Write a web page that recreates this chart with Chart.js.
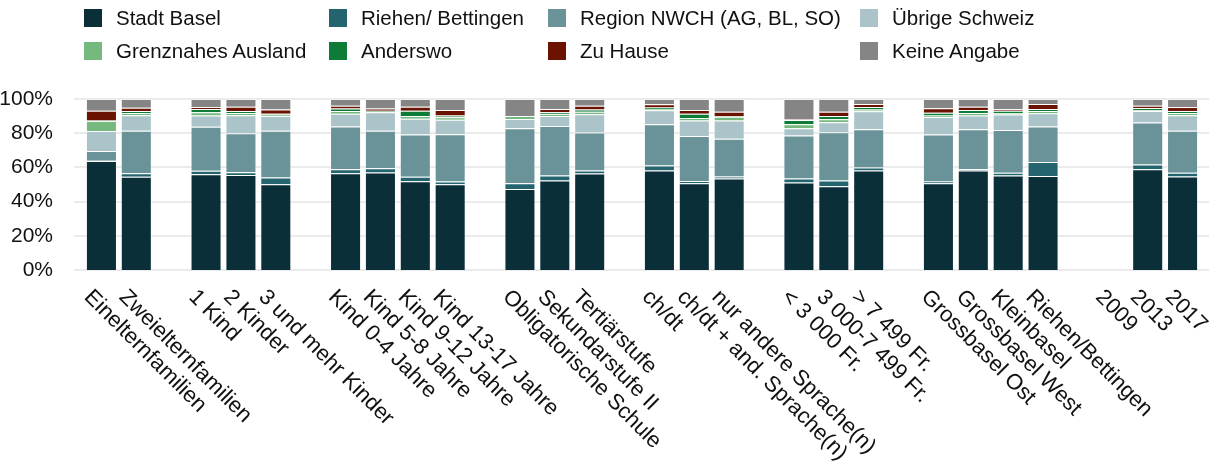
<!DOCTYPE html>
<html>
<head>
<meta charset="utf-8">
<script src="https://cdn.jsdelivr.net/npm/chart.js@4/dist/chart.umd.min.js"></script>
<style>
    body { margin: 0; background: #fff; }
    #wrap { position: relative; width: 1215px; height: 464px; }
    #legend { position: absolute; left: 0; top: 0; width: 1215px; height: 70px; }
    .item { position: absolute; height: 18px; font-family: "Liberation Sans", Arial, sans-serif; font-size: 20.5px; color: #111; white-space: nowrap; }
    .box { position: absolute; left: 0; top: 0; width: 18px; height: 18px; }
    .txt { position: absolute; left: 32px; top: -3px; line-height: 24px; }
</style>
</head>
<body>
<div id="wrap">
    <canvas id="myChart" width="1215" height="464"></canvas>
    <div id="legend"></div>
</div>
<script>
"use strict";
// categories, "" = empty slot between groups
const Categories = ["Einelternfamilien", "Zweielternfamilien", "",
    "1 Kind", "2 Kinder", "3 und mehr Kinder", "",
    "Kind 0-4 Jahre", "Kind 5-8 Jahre", "Kind 9-12 Jahre", "Kind 13-17 Jahre", "",
    "Obligatorische Schule", "Sekundarstufe II", "Tertiärstufe", "",
    "ch/dt", "ch/dt + and. Sprache(n)", "nur andere Sprache(n)", "",
    "< 3 000 Fr.", "3 000-7 499 Fr.", "> 7 499 Fr.", "",
    "Grossbasel Ost", "Grossbasel West", "Kleinbasel", "Riehen/Bettingen", "",
    "2009", "2013", "2017"];

const SeriesNames = ["Stadt Basel", "Riehen/ Bettingen", "Region NWCH (AG, BL, SO)", "Übrige Schweiz",
    "Grenznahes Ausland", "Anderswo", "Zu Hause", "Keine Angabe"];
const SeriesColors = ["#0b2f39", "#23646e", "#6a9399", "#aac4ca", "#76b97e", "#0c7c36", "#6b1300", "#858585"];

const StadtBasel = [63.8, 54.5, null, 56.0, 55.6, 50.2, null, 56.6, 57.0, 51.9, 50.2, null, 47.3, 52.3, 56.4, null,
    58.2, 50.8, 53.5, null, 51.2, 49.0, 58.2, null, 50.8, 58.2, 55.3, 54.9, null, null, 58.9, 54.7];
const RiehenBettingen = [0.4, 2.1, null, 2.0, 1.6, 3.9, null, 2.3, 2.5, 2.6, 1.6, null, 3.5, 3.0, 1.8, null,
    2.9, 1.3, 1.2, null, 2.3, 3.3, 1.7, null, 1.0, 0.7, 1.5, 8.3, null, null, 2.8, 2.1];
const RegionNWCH = [5.4, 24.9, null, 25.7, 22.8, 27.4, null, 25.0, 22.0, 24.7, 27.6, null, 32.1, 28.9, 22.2, null,
    24.1, 26.3, 22.1, null, 25.1, 28.2, 22.4, null, 27.4, 23.4, 25.1, 20.7, null, null, 24.5, 24.7];
const UebrigeSchweiz = [11.7, 9.0, null, 6.6, 10.5, 8.6, null, 7.5, 10.7, 9.3, 8.5, null, 5.4, 5.9, 10.7, null,
    8.2, 9.0, 10.6, null, 4.3, 5.9, 10.5, null, 10.3, 8.0, 9.0, 7.7, null, null, 6.8, 9.0];
const Grenznahes = [5.9, 1.3, null, 1.9, 1.3, 0.8, null, 1.6, 0.4, 1.6, 1.4, null, 1.8, 1.0, 1.5, null,
    0.8, 1.5, 2.2, null, 2.3, 1.7, 1.0, null, 0.8, 1.5, 0.9, 1.4, null, null, 0.4, 1.3];
const Anderswo = [0.2, 1.2, null, 2.0, 1.2, 0.5, null, 1.4, 0.6, 3.1, 1.0, null, 0, 1.1, 1.2, null,
    0.9, 2.5, 0.3, null, 2.5, 2.0, 1.5, null, 1.7, 1.8, 1.4, 1.2, null, null, 1.3, 1.2];
const ZuHause = [5.8, 1.9, null, 1.1, 2.5, 2.4, null, 1.7, 1.2, 2.3, 3.3, null, 0, 2.0, 2.3, null,
    1.8, 2.2, 2.7, null, 0.4, 2.5, 1.8, null, 2.6, 1.9, 0.8, 2.9, null, null, 1.4, 2.3];
const KeineAngabe = [6.8, 5.1, null, 4.7, 4.5, 6.2, null, 3.9, 5.6, 4.5, 6.4, null, 9.9, 5.8, 3.9, null,
    3.1, 6.4, 7.4, null, 11.9, 7.4, 2.9, null, 5.4, 4.5, 6.0, 2.9, null, null, 3.9, 4.7];

const AllSeries = [StadtBasel, RiehenBettingen, RegionNWCH, UebrigeSchweiz, Grenznahes, Anderswo, ZuHause, KeineAngabe];
const YTicks = [0, 20, 40, 60, 80, 100];

const FontFamily = '"Liberation Sans", Arial, sans-serif';

// grid lines a bit wider than the plot area
const GridPlugin = {
    id: 'grid',
    beforeDatasetsDraw(chart) {
        const ctx = chart.ctx;
        const area = chart.chartArea;
        const y = chart.scales.y;
        ctx.save();
        ctx.strokeStyle = '#ebebeb';
        ctx.lineWidth = 2;
        for (let i = 0; i < YTicks.length; i++) {
            const py = Math.round(y.getPixelForValue(YTicks[i]));
            ctx.beginPath();
            ctx.moveTo(area.left - 10, py);
            ctx.lineTo(area.right + 9, py);
            ctx.stroke();
        }
        ctx.restore();
    }
};

// x labels turned 45 degrees clockwise
const XLabelPlugin = {
    id: 'xlabels',
    afterDraw(chart) {
        const ctx = chart.ctx;
        const x = chart.scales.x;
        const top = chart.chartArea.bottom + 16;
        ctx.save();
        ctx.font = '22px ' + FontFamily;
        ctx.fillStyle = '#111';
        ctx.textAlign = 'left';
        ctx.textBaseline = 'top';
        for (let i = 0; i < Categories.length; i++) {
            if (Categories[i] === "") continue;
            ctx.save();
            ctx.translate(x.getPixelForValue(i) - 6, top);
            ctx.rotate(Math.PI / 4);
            ctx.fillText(Categories[i], 0, 0);
            ctx.restore();
        }
        ctx.restore();
    }
};

DrawChart();
RenderLegend();

function DrawChart() {
    const datasets = [];
    for (let i = 0; i < AllSeries.length; i++) {
        datasets.push({
            label: SeriesNames[i],
            data: AllSeries[i],
            backgroundColor: SeriesColors[i],
            borderColor: 'rgba(255,255,255,0.3)',
            borderWidth: 1,
            barPercentage: 0.89,
            categoryPercentage: 1
        });
    }
    const config = {
        type: 'bar',
        data: { labels: Categories, datasets: datasets },
        options: {
            responsive: false,
            animation: false,
            layout: { padding: { top: 99, right: 15, bottom: 194, left: 0 } },
            plugins: { legend: { display: false }, tooltip: { enabled: false } },
            scales: {
                x: { stacked: true, display: false },
                y: {
                    stacked: true,
                    min: 0,
                    max: 100,
                    afterFit(scale) { scale.width = 84; },
                    afterBuildTicks(scale) { scale.ticks = YTicks.map(v => ({ value: v })); },
                    grid: { display: false },
                    border: { display: false },
                    ticks: {
                        padding: 23,
                        color: '#111',
                        font: { family: FontFamily, size: 21 },
                        callback: v => v + '%'
                    }
                }
            }
        },
        plugins: [GridPlugin, XLabelPlugin]
    };
    new Chart(document.getElementById('myChart'), config);
}

// legend in four fixed columns, two rows
function RenderLegend() {
    const Legend = document.getElementById('legend');
    const cols = [84, 329, 548, 860];
    const rows = [9, 42];
    for (let i = 0; i < SeriesNames.length; i++) {
        const item = document.createElement('div');
        item.className = 'item';
        item.style.left = cols[i % 4] + 'px';
        item.style.top = rows[Math.floor(i / 4)] + 'px';
        const box = document.createElement('div');
        box.className = 'box';
        box.style.background = SeriesColors[i];
        const txt = document.createElement('span');
        txt.className = 'txt';
        txt.textContent = SeriesNames[i];
        item.appendChild(box);
        item.appendChild(txt);
        Legend.appendChild(item);
    }
}
</script>
</body>
</html>
